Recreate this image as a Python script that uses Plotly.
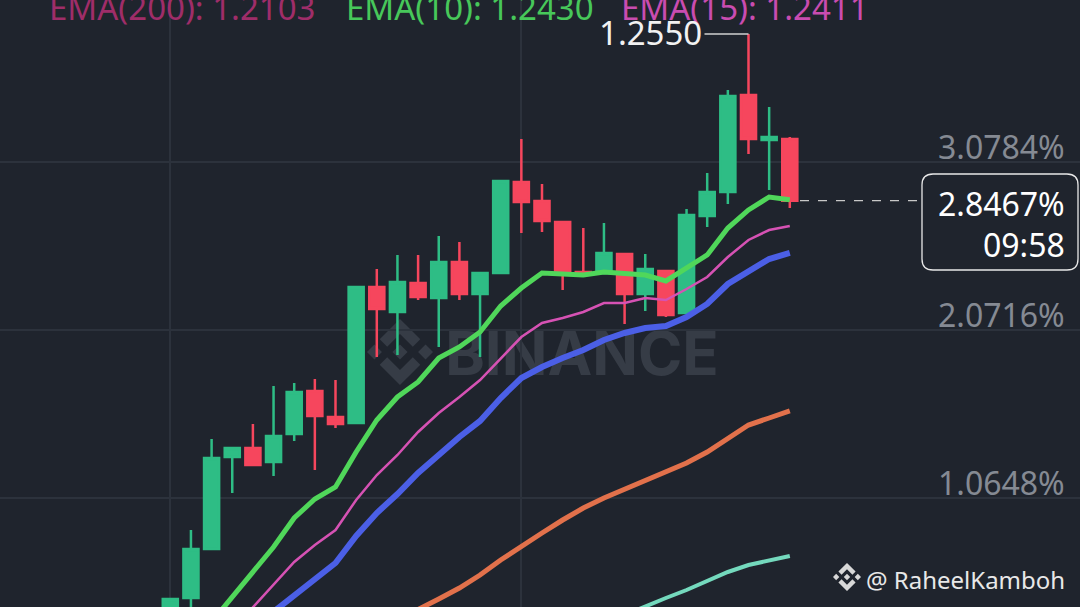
import plotly.graph_objects as go

W, H = 1080, 607
BG = "#1f242d"
GRID = "#2c323c"
UP = "#2ebd85"
DOWN = "#f6465d"

# ---------------- data (percent change scale) ----------------
candle_idx = list(range(31))
opens = [0.3037, 0.4655, 0.7592, 1.3105, 1.3644, 1.2806, 1.4483, 1.7060, 1.5502, 1.5142,
         2.3293, 2.1795, 2.3533, 2.2634, 2.4791, 2.2874, 2.4132, 2.9585, 2.8447, 2.7188,
         2.4192, 2.4132, 2.5271, 2.2874, 2.4252, 2.1735, 2.7548, 2.8986, 3.4799, 3.2102, 3.2162]
highs = [0.4595, 0.8730, 1.4184, 1.3644, 1.5083, 1.7360, 1.7540, 1.7779, 1.7719, 2.3353,
         2.4371, 2.5211, 2.5211, 2.6350, 2.5990, 2.4192, 2.9645, 3.2162, 2.9466, 2.7188,
         2.6828, 2.7129, 2.5331, 2.5271, 2.4252, 2.7968, 3.0125, 3.5099, 3.8455, 3.4080, 3.2282]
lows = [0.2138, 0.3637, 0.7592, 1.0948, 1.2566, 1.1966, 1.4064, 1.2326, 1.4843, 1.5083,
        1.9098, 1.9218, 2.2514, 1.9697, 2.2514, 1.9098, 2.4132, 2.6529, 2.6589, 2.3113,
        2.4012, 2.4072, 2.1075, 2.1855, 2.1495, 2.1735, 2.6889, 2.8267, 3.1264, 2.9106, 2.8027]
closes = [0.4595, 0.7592, 1.3045, 1.3644, 1.2626, 1.4363, 1.7000, 1.5562, 1.5083, 2.3293,
          2.1974, 2.3593, 2.2694, 2.4791, 2.2874, 2.4132, 2.9645, 2.8387, 2.7248, 2.4132,
          2.4072, 2.5331, 2.2874, 2.4371, 2.1615, 2.7608, 2.8986, 3.4739, 3.2162, 3.2282, 2.8467]

ema10_x = list(range(2, 31))
ema10 = [0.3217, 0.4715, 0.6214, 0.7712, 0.9450, 1.0588, 1.1307, 1.3405, 1.5323, 1.6701,
         1.7600, 1.9038, 1.9697, 2.0596, 2.2154, 2.3233, 2.4132, 2.4072, 2.4012, 2.4192,
         2.4072, 2.4012, 2.3653, 2.4432, 2.5211, 2.6828, 2.7908, 2.8687, 2.8520]
ema15_x = list(range(3, 31))
ema15 = [0.2738, 0.4116, 0.5435, 0.6813, 0.7832, 0.8730, 1.0528, 1.2026, 1.3225, 1.4603,
         1.5742, 1.6701, 1.7719, 1.9038, 2.0296, 2.1135, 2.1435, 2.1795, 2.2334, 2.2334,
         2.2634, 2.2514, 2.3173, 2.3892, 2.5091, 2.6110, 2.6709, 2.6950]
ema_blue_x = list(range(4, 31))
ema_blue = [0.2857, 0.3816, 0.4775, 0.5734, 0.6753, 0.8371, 0.9749, 1.0888, 1.2146, 1.3225,
            1.4304, 1.5263, 1.6641, 1.7839, 1.8498, 1.9038, 1.9517, 2.0117, 2.0536, 2.0836,
            2.0956, 2.1495, 2.2274, 2.3473, 2.4252, 2.4971, 2.5331]
ema_orange_x = list(range(11, 31))
ema_orange = [0.3337, 0.3936, 0.4595, 0.5254, 0.6033, 0.6932, 0.7771, 0.8550, 0.9329, 1.0048,
              1.0647, 1.1187, 1.1726, 1.2205, 1.2745, 1.3405, 1.4244, 1.5022, 1.5442, 1.5862]
ema_teal_x = list(range(22, 31))
ema_teal = [0.3637, 0.4176, 0.4655, 0.5134, 0.5674, 0.6214, 0.6633, 0.6873, 0.7172]

y_tick_vals = [1.0648, 2.0716, 3.0784]
y_tick_text = ["1.0648%", "2.0716%", "3.0784%"]
x_grid_vals = [0, 17]

legend_labels = ["EMA(200): 1.2103", "EMA(10): 1.2430", "EMA(15): 1.2411"]
legend_colors = ["#9f2d69", "#47c85a", "#c94cb0"]
high_label = "1.2550"
high_idx = 28
last_price_text = "2.8467%"
countdown_text = "09:58"
watermark_text = "BINANCE"
author_text = "@ RaheelKamboh"

# ---------------- layout calibration ----------------
X_PX0, X_STEP = 170.3, 20.65
Y_TOP, Y_PER_PX = 4.04925, 0.0059929
x_range = [(0 - X_PX0) / X_STEP, (W - X_PX0) / X_STEP]
y_range = [Y_TOP - H * Y_PER_PX, Y_TOP]


def px(x):
    return x / W


def py(y):
    return 1 - y / H


def pt(x, y):
    return f"{px(x):.5f},{py(y):.5f}"


LOGO = [
    [(38.73, 53.2), (63.3, 28.64), (87.89, 53.22), (102.19, 38.92), (63.3, 0), (24.42, 38.9)],
    [(0, 63.3), (14.3, 49), (28.6, 63.3), (14.3, 77.6)],
    [(98, 63.3), (112.3, 49), (126.6, 63.3), (112.3, 77.6)],
    [(38.73, 73.4), (63.3, 97.96), (87.89, 73.38), (102.19, 87.68), (63.3, 126.6), (24.42, 87.7)],
    [(63.3, 48.8), (77.8, 63.3), (63.3, 77.8), (48.8, 63.3)],
]


def logo_path(cx, cy, size):
    s = size / 126.6
    parts = []
    for poly in LOGO:
        pts = [pt(cx + (a - 63.3) * s, cy + (b - 63.3) * s) for a, b in poly]
        parts.append("M" + " L".join(pts) + " Z")
    return " ".join(parts)


def round_rect(x0, y0, x1, y1, r):
    return (f"M{pt(x0 + r, y0)} L{pt(x1 - r, y0)} Q{pt(x1, y0)} {pt(x1, y0 + r)} "
            f"L{pt(x1, y1 - r)} Q{pt(x1, y1)} {pt(x1 - r, y1)} L{pt(x0 + r, y1)} "
            f"Q{pt(x0, y1)} {pt(x0, y1 - r)} L{pt(x0, y0 + r)} Q{pt(x0, y0)} {pt(x0 + r, y0)} Z")


fig = go.Figure()

fig.add_trace(go.Candlestick(
    x=candle_idx, open=opens, high=highs, low=lows, close=closes,
    increasing=dict(line=dict(color=UP, width=2.5), fillcolor=UP),
    decreasing=dict(line=dict(color=DOWN, width=2.5), fillcolor=DOWN),
    whiskerwidth=0, showlegend=False, hoverinfo="skip"))

lines = [
    (ema_teal_x, ema_teal, "#74d9bd", 4),
    (ema_orange_x, ema_orange, "#e2714b", 5),
    (ema_blue_x, ema_blue, "#4b5fe6", 6),
    (ema15_x, ema15, "#d652b4", 2.5),
    (ema10_x, ema10, "#50d75a", 5),
]
for xs, ys, c, w in lines:
    fig.add_trace(go.Scatter(x=xs, y=ys, mode="lines", line=dict(color=c, width=w),
                             showlegend=False, hoverinfo="skip"))

shapes = []
# watermark (below data)
shapes.append(dict(type="path", xref="paper", yref="paper", layer="below",
                   path=logo_path(400, 352, 66), fillcolor="#363c46", line=dict(width=0)))
shapes.append(dict(type="rect", xref="paper", yref="paper", layer="below",
                   x0=px(436), x1=px(728), y0=py(380), y1=py(322),
                   line=dict(width=0), fillcolor="rgba(0,0,0,0)",
                   label=dict(text=watermark_text, textposition="middle center",
                              font=dict(family="Inter", size=60, color="#363c46", weight="bold"))))
# last price dashed line
shapes.append(dict(type="line", xref="paper", yref="y", x0=px(800), x1=px(922),
                   y0=closes[-1], y1=closes[-1], line=dict(color="#c8c8c8", width=1.2, dash="dash")))
# price box
shapes.append(dict(type="path", xref="paper", yref="paper",
                   path=round_rect(922, 174, 1078, 270, 11), fillcolor=BG,
                   line=dict(color="#e8e8e8", width=1.3)))
# high marker connector
hx = high_idx - (749 - 705) / X_STEP
shapes.append(dict(type="line", xref="x", yref="y", x0=hx, x1=high_idx,
                   y0=highs[high_idx], y1=highs[high_idx], line=dict(color="#d0d0d0", width=1.5)))
# small logo bottom-right
shapes.append(dict(type="path", xref="paper", yref="paper",
                   path=logo_path(847, 577, 28), fillcolor="#d8d8d8", line=dict(width=0)))

annotations = []
FONT = "Noto Sans"
for v, t in zip(y_tick_vals, y_tick_text):
    annotations.append(dict(x=px(1067), xref="paper", y=v, yref="y", yshift=16,
                            text=t, showarrow=False, xanchor="right", yanchor="middle",
                            font=dict(family=FONT, size=32, color="#858a93")))
for x0, t, c in zip([47, 344, 619], legend_labels, legend_colors):
    annotations.append(dict(x=px(x0), xref="paper", y=py(7), yref="paper", text=t,
                            showarrow=False, xanchor="left", yanchor="middle",
                            font=dict(family=FONT, size=33, color=c)))
annotations.append(dict(x=hx, xref="x", y=highs[high_idx], yref="y", text=high_label,
                        showarrow=False, xanchor="right", yanchor="middle", xshift=-1, yshift=2,
                        font=dict(family=FONT, size=33, color="#f2f2f2")))
annotations.append(dict(x=px(1067), xref="paper", y=py(203), yref="paper", text=last_price_text,
                        showarrow=False, xanchor="right", yanchor="middle",
                        font=dict(family=FONT, size=32, color="#ffffff")))
annotations.append(dict(x=px(1067), xref="paper", y=py(244), yref="paper", text=countdown_text,
                        showarrow=False, xanchor="right", yanchor="middle",
                        font=dict(family=FONT, size=32, color="#ffffff")))
annotations.append(dict(x=px(1067), xref="paper", y=py(579), yref="paper", text=author_text,
                        showarrow=False, xanchor="right", yanchor="middle",
                        font=dict(family=FONT, size=24, color="#e8e8e8")))

fig.update_layout(
    width=W, height=H, margin=dict(l=0, r=0, t=0, b=0),
    paper_bgcolor=BG, plot_bgcolor=BG,
    boxgap=0.27, boxgroupgap=0,
    shapes=shapes, annotations=annotations, showlegend=False,
    xaxis=dict(range=x_range, tickvals=x_grid_vals, showticklabels=False, showgrid=True,
               gridcolor=GRID, gridwidth=1.5, zeroline=False, showline=False,
               rangeslider=dict(visible=False), fixedrange=True),
    yaxis=dict(range=y_range, tickvals=y_tick_vals, showticklabels=False, showgrid=True,
               gridcolor=GRID, gridwidth=1.5, zeroline=False, showline=False, fixedrange=True),
)

fig.write_html("out.html", config={"displayModeBar": False},
               post_script="document.body.style.margin='0';document.body.style.overflow='hidden';"
                           "document.body.style.background='" + BG + "';")
